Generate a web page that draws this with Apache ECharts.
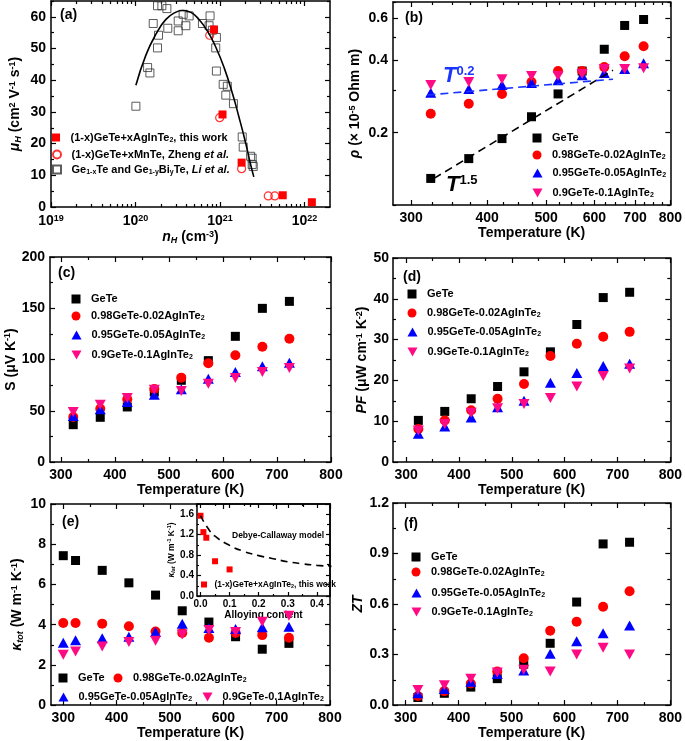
<!DOCTYPE html>
<html>
<head>
<meta charset="utf-8">
<script src="https://cdn.jsdelivr.net/npm/echarts@6.0.0/dist/echarts.min.js"></script>
<style>
html,body{margin:0;padding:0;background:#ffffff;}
#chart{width:685px;height:741px;}
</style>
</head>
<body>
<div id="chart"></div>
<script>
// ================= DATA =================
const temps = [323, 373, 423, 473, 523, 573, 623, 673, 723];
const tempsKappa = [300, 323, 373, 423, 473, 523, 573, 623, 673, 723];
const sampleNames = ['GeTe', '0.98GeTe-0.02AgInTe2', '0.95GeTe-0.05AgInTe2', '0.9GeTe-0.1AgInTe2'];
const nameThis = '(1-x)GeTe+xAgInTe2, this work';
const nameZheng = '(1-x)GeTe+xMnTe, Zheng et al.';
const nameLi = 'Ge1-xTe and Ge1-yBiyTe, Li et al.';

// (a) Hall mobility vs Hall carrier concentration
const nH_li = [1.01e20,1.39e20,1.48e20,1.62e20,1.82e20,1.87e20,1.82e20,2.05e20,2.35e20,2.41e20,3.20e20,3.20e20,3.66e20,3.94e20,4.31e20,6.19e20,7.42e20,7.62e20,8.12e20,9.06e20,8.89e20,9.06e20,1.09e21,1.17e21,1.22e21,1.44e21,1.83e21,1.88e21,2.30e21,2.40e21,2.40e21,2.47e21];
const mu_li = [31.8,44.0,42.3,57.9,50.2,54.2,63.5,63.5,62.6,56.4,55.6,58.7,60.8,57.2,60.3,57.9,57.2,60.3,55.8,53.5,50.2,42.9,38.7,35.3,38.1,32.6,22.1,18.9,16.0,15.4,13.4,12.8];
const nH_this = [8.49e20, 1.07e21, 1.80e21, 5.52e21, 1.22e22];
const mu_this = [56.0, 29.2, 14.0, 3.7, 1.5];
const nH_zheng = [7.55e20, 9.9e20, 1.80e21, 3.72e21, 4.45e21];
const mu_zheng = [54.2, 28.2, 12.1, 3.5, 3.5];
const nH_fit = [1.01e20,1.33e20,1.75e20,2.29e20,3.01e20,3.60e20,4.52e20,5.67e20,7.11e20,8.92e20,1.12e21,1.40e21,1.67e21,2.01e21,2.30e21,2.51e21];
const mu_fit = [38.4,48.0,54.6,59.2,61.5,62.0,61.4,59.1,55.5,50.4,43.9,35.9,28.5,20.2,13.4,9.5];

// (b) resistivity (x 10^-5 Ohm m)
const rho_GeTe = [0.129, 0.156, 0.189, 0.233, 0.290, 0.361, 0.445, 0.559, 0.592];
const rho_02 = [0.240, 0.264, 0.290, 0.325, 0.361, 0.361, 0.375, 0.416, 0.458];
const rho_05 = [0.293, 0.304, 0.316, 0.322, 0.331, 0.347, 0.354, 0.368, 0.389];
const rho_10 = [0.316, 0.325, 0.334, 0.344, 0.344, 0.351, 0.368, 0.368, 0.371];
const fit15_T = [327, 644];
const fit15_rho = [0.129, 0.364];
const fit02_T = [319, 644];
const fit02_rho = [0.287, 0.334];

// (c) Seebeck coefficient (uV/K)
const S_GeTe = [36.4, 43.6, 53.7, 68.3, 79.7, 98.9, 122.6, 149.9, 156.7];
const S_02 = [43.9, 52.0, 61.1, 71.2, 82.3, 96.3, 104.1, 112.5, 120.3];
const S_05 = [44.9, 51.4, 58.5, 65.7, 70.9, 81.3, 87.8, 93.3, 96.9];
const S_10 = [48.8, 55.9, 62.4, 70.6, 69.3, 76.4, 82.0, 87.8, 91.7];

// (d) power factor (uW cm^-1 K^-2)
const PF_GeTe = [10.2, 12.4, 15.5, 18.5, 22.1, 27.0, 33.7, 40.3, 41.6];
const PF_02 = [8.1, 10.2, 12.7, 15.5, 19.1, 26.0, 29.0, 30.7, 31.9];
const PF_05 = [6.9, 8.7, 10.9, 13.4, 15.0, 19.4, 21.8, 23.5, 24.1];
const PF_10 = [7.7, 9.3, 12.1, 13.2, 14.2, 15.7, 18.5, 21.1, 22.9];

// (e) total thermal conductivity (W m^-1 K^-1)
const k_GeTe = [7.43, 7.19, 6.70, 6.08, 5.47, 4.69, 4.13, 3.40, 2.78, 3.07];
const k_02 = [4.08, 4.08, 4.05, 3.92, 3.66, 3.59, 3.35, 3.59, 3.48, 3.35];
const k_05 = [3.10, 3.22, 3.33, 3.40, 3.63, 4.05, 3.84, 3.79, 3.87, 3.89];
const k_10 = [2.50, 2.66, 2.91, 3.14, 3.20, 3.51, 3.73, 3.63, 4.15, 4.44];

// (e) inset: lattice thermal conductivity vs alloying content
const alloyX = [0, 0.01, 0.02, 0.05, 0.1];
const kLat = [1.57, 1.25, 1.14, 0.68, 0.52];
const dcX = [0, 0.025, 0.05, 0.1, 0.15, 0.2, 0.25, 0.3, 0.35, 0.4, 0.45];
const dcK = [1.57, 1.33, 1.17, 0.99, 0.87, 0.79, 0.73, 0.67, 0.63, 0.60, 0.58];

// (f) ZT
const ZT_GeTe = [0.045, 0.070, 0.107, 0.157, 0.243, 0.367, 0.612, 0.957, 0.967];
const ZT_02 = [0.054, 0.083, 0.128, 0.200, 0.278, 0.441, 0.495, 0.584, 0.676];
const ZT_05 = [0.070, 0.095, 0.138, 0.184, 0.206, 0.305, 0.379, 0.427, 0.472];
const ZT_10 = [0.089, 0.118, 0.157, 0.194, 0.210, 0.200, 0.301, 0.340, 0.301];

// tick labels
const tempTicks = [300, 400, 500, 600, 700, 800];
const tempMinor = [350, 450, 550, 650, 750];
const tempMinorLog = [325, 350, 375, 425, 450, 475, 525, 550, 575, 625, 650, 675, 725, 750, 775];
const nHTicks = [1e19, 1e20, 1e21, 1e22];
const nHMinor = [2e19,3e19,4e19,5e19,6e19,7e19,8e19,9e19,2e20,3e20,4e20,5e20,6e20,7e20,8e20,9e20,2e21,3e21,4e21,5e21,6e21,7e21,8e21,9e21];
const muTicks = [0, 10, 20, 30, 40, 50, 60];
const muMinor = [5, 15, 25, 35, 45, 55, 65];
const rhoTicks = [0.2, 0.4, 0.6];
const rhoMinor = [0.1, 0.3, 0.5, 0.7];
const STicks = [0, 50, 100, 150, 200];
const SMinor = [25, 75, 125, 175];
const PFTicks = [0, 10, 20, 30, 40, 50];
const PFMinor = [5, 15, 25, 35, 45];
const kTicks = [0, 2, 4, 6, 8, 10];
const kMinor = [1, 3, 5, 7, 9];
const ZTTicks = [0, 0.3, 0.6, 0.9, 1.2];
const ZTMinor = [0.15, 0.45, 0.75, 1.05];
const alloyTicks = [0, 0.1, 0.2, 0.3, 0.4];
const alloyMinor = [0.05, 0.15, 0.25, 0.35];
const kLatTicks = [0, 0.4, 0.8, 1.2, 1.6];
const kLatMinor = [0.2, 0.6, 1.0, 1.4, 1.8];

// ================= BUILD =================
const FONT = 'Arial, "Liberation Sans", Helvetica, sans-serif';
const C_BLACK = '#000000', C_RED = '#ff0000', C_BLUE = '#0000ff', C_PINK = '#ff0a85';
const TRI_DOWN = 'path://M0,0L10,0L5,9Z';
const TRI_UP = 'path://M5,0L10,9L0,9Z';
const SQUARE = 'path://M0,0L10,0L10,10L0,10Z';

function richFor(fs) {
  const s = Math.round(fs * 0.64 * 10) / 10;
  const pad = Math.round(fs * 0.45);
  const b = {fontWeight: 'bold', fontFamily: FONT, color: '#000'};
  return {
    sup: Object.assign({fontSize: s, verticalAlign: 'top', padding: [0, 0, pad, 0]}, b),
    sub: Object.assign({fontSize: s, verticalAlign: 'bottom', padding: [pad, 0, 0, 0]}, b),
    it: Object.assign({fontSize: fs, fontStyle: 'italic'}, b),
    itsub: Object.assign({fontSize: s, fontStyle: 'italic', verticalAlign: 'bottom', padding: [pad, 0, 0, 0]}, b)
  };
}

const grid = [], xAxis = [], yAxis = [], series = [], legend = [], graphic = [];

function addGrid(l, t, w, h) { grid.push({left: l, top: t, width: w, height: h, containLabel: false}); return grid.length - 1; }

function makeAxis(dim, gi, c) {
  const list = dim === 'x' ? xAxis : yAxis;
  const mainPos = dim === 'x' ? 'bottom' : 'left';
  const oppPos = dim === 'x' ? 'top' : 'right';
  const common = () => {
    const o = {gridIndex: gi, type: c.type || 'value', min: c.min, max: c.max, splitLine: {show: false}, silent: true};
    if (c.type === 'log') o.logBase = 10;
    return o;
  };
  const line = {show: true, onZero: false, lineStyle: {color: '#000', width: 1.5}};
  const noline = {show: false, onZero: false};
  const tick = (vals, len) => ({show: true, inside: true, length: len, customValues: vals, lineStyle: {color: '#000', width: 1.2}});
  const idx = list.length;
  list.push(Object.assign(common(), {
    position: mainPos, axisLine: line, axisTick: tick(c.majors, c.majLen || 5),
    axisLabel: {show: true, customValues: c.labels, formatter: c.fmt, margin: c.margin, color: '#000',
      fontSize: c.fs, fontWeight: 'bold', fontFamily: FONT, rich: richFor(c.fs)},
    name: c.name, nameLocation: 'middle', nameGap: c.nameGap,
    nameTextStyle: {color: '#000', fontSize: c.nfs, fontWeight: 'bold', fontFamily: FONT, rich: richFor(c.nfs)}
  }));
  list.push(Object.assign(common(), {position: mainPos, axisLine: noline, axisTick: tick(c.minors, c.minLen || 3), axisLabel: {show: false}}));
  list.push(Object.assign(common(), {position: oppPos, axisLine: line, axisTick: tick(c.majors, c.majLen || 5), axisLabel: {show: false}}));
  list.push(Object.assign(common(), {position: oppPos, axisLine: noline, axisTick: tick(c.minors, c.minLen || 3), axisLabel: {show: false}}));
  return idx;
}

function pairs(xs, ys) { return xs.map((x, i) => [x, ys[i]]); }

function scat(name, xi, yi, xs, ys, symbol, color, size, extra) {
  series.push(Object.assign({
    type: 'scatter', name: name, xAxisIndex: xi, yAxisIndex: yi, data: pairs(xs, ys),
    symbol: symbol, symbolSize: size, itemStyle: {color: color, opacity: 1}, silent: true
  }, extra || {}));
}

function lineS(name, xi, yi, xs, ys, color, type, smooth) {
  series.push({type: 'line', name: name, xAxisIndex: xi, yAxisIndex: yi, data: pairs(xs, ys),
    showSymbol: false, symbol: 'none', smooth: !!smooth, silent: true,
    lineStyle: {color: color, width: 1.6, type: type}});
}

const LEG_TEXT = {};
LEG_TEXT['GeTe'] = 'GeTe';
LEG_TEXT['0.98GeTe-0.02AgInTe2'] = '0.98GeTe-0.02AgInTe{sub|2}';
LEG_TEXT['0.95GeTe-0.05AgInTe2'] = '0.95GeTe-0.05AgInTe{sub|2}';
LEG_TEXT['0.9GeTe-0.1AgInTe2'] = '0.9GeTe-0.1AgInTe{sub|2}';
LEG_TEXT[nameThis] = '(1-x)GeTe+xAgInTe{sub|2}, this work';
LEG_TEXT[nameZheng] = '(1-x)GeTe+xMnTe, Zheng {it|et al.}';
LEG_TEXT[nameLi] = 'Ge{sub|1-x}Te and Ge{sub|1-y}Bi{sub|y}Te, {it|Li et al.}';

function leg(name, cx, cy, fs, isz, extra) {
  fs = fs || 11; isz = isz || 9;
  const w = isz + (extra === undefined ? 11 : extra);
  legend.push({data: [name], left: cx - isz / 2, top: cy - isz / 2, itemWidth: w, itemHeight: isz,
    padding: 0, itemGap: 0, selectedMode: false, symbolKeepAspect: true,
    textStyle: {color: '#000', fontSize: fs, fontWeight: 'bold', fontFamily: FONT, rich: richFor(fs)},
    formatter: (n) => LEG_TEXT[n] || n});
}

function txt(x, y, text, fs, color, rich, style) {
  graphic.push({type: 'text', x: x, y: y, silent: true, z: 50,
    style: Object.assign({text: text, fill: color || '#000', fontSize: fs, fontWeight: 'bold', fontFamily: FONT,
      align: 'left', verticalAlign: 'middle', rich: rich}, style || {})});
}

const tempName = 'Temperature (K)';
const fmt1 = v => Number(v).toFixed(1);

// ---------- panel (a) ----------
const gA = addGrid(51, 1, 279, 206);
const xA = makeAxis('x', gA, {type: 'log', min: 1e19, max: 2e22, labels: nHTicks, majors: nHTicks, minors: nHMinor,
  fmt: v => '10{sup|' + Math.round(Math.log10(v)) + '}', fs: 14, margin: 7,
  name: '{it|n}{itsub|H} (cm{sup|-3})', nfs: 14, nameGap: 23});
const yA = makeAxis('y', gA, {min: 0, max: 65, labels: muTicks, majors: muTicks, minors: muMinor, fs: 14, margin: 5,
  name: '{it|μ}{itsub|H} (cm{sup|2} V{sup|-1} s{sup|-1})', nfs: 14, nameGap: 28});
scat(nameLi, xA, yA, nH_li, mu_li, SQUARE, 'rgba(0,0,0,0)', 8, {itemStyle: {color: 'rgba(255,255,255,0)', borderColor: '#333', borderWidth: 1}});
lineS('fitA', xA, yA, nH_fit, mu_fit, '#000', 'solid', true);
scat(nameZheng, xA, yA, nH_zheng, mu_zheng, 'circle', 'rgba(0,0,0,0)', 8, {itemStyle: {color: 'rgba(255,255,255,0)', borderColor: C_RED, borderWidth: 1.2}});
scat(nameThis, xA, yA, nH_this, mu_this, SQUARE, C_RED, 8);
leg(nameThis, 56, 136, 11, 8);
leg(nameZheng, 56, 153, 11, 8);
leg(nameLi, 56, 168, 11, 8);
txt(60, 15, '(a)', 14);

// ---------- panel (b) ----------
const gB = addGrid(393, 2, 279, 203);
const xB = makeAxis('x', gB, {type: 'log', min: 280, max: 800, labels: tempTicks, majors: tempTicks, minors: tempMinorLog,
  fs: 14, margin: 6, name: tempName, nfs: 14, nameGap: 20});
const yB = makeAxis('y', gB, {type: 'log', min: 0.1, max: 0.7, labels: rhoTicks, majors: rhoTicks, minors: rhoMinor,
  fmt: fmt1, fs: 14, margin: 5, name: '{it|ρ} (× 10{sup|-5} Ohm m)', nfs: 14, nameGap: 30});
lineS('fit15', xB, yB, fit15_T, fit15_rho, '#000', [8, 5], false);
lineS('fit02', xB, yB, fit02_T, fit02_rho, '#1a35ff', [8, 5], false);
scat(sampleNames[0], xB, yB, temps, rho_GeTe, SQUARE, C_BLACK, 9);
scat(sampleNames[1], xB, yB, temps, rho_02, 'circle', C_RED, 10);
scat(sampleNames[2], xB, yB, temps, rho_05, TRI_UP, C_BLUE, [11, 10]);
scat(sampleNames[3], xB, yB, temps, rho_10, TRI_DOWN, C_PINK, [11, 10]);
leg(sampleNames[0], 537, 137);
leg(sampleNames[1], 537, 154);
leg(sampleNames[2], 537, 172);
leg(sampleNames[3], 537, 192);
txt(405, 18, '(b)', 14);
txt(443, 76, '{T|T}{s|0.2}', 20, '#1a35ff', {
  T: {fontSize: 22, fontStyle: 'italic', fontWeight: 'bold', fontFamily: FONT, fill: '#1a35ff'},
  s: {fontSize: 13, fontWeight: 'bold', fontFamily: FONT, fill: '#1a35ff', verticalAlign: 'top', padding: [0, 0, 10, 0]}});
txt(446, 185, '{T|T}{s|1.5}', 20, '#000', {
  T: {fontSize: 22, fontStyle: 'italic', fontWeight: 'bold', fontFamily: FONT, fill: '#000'},
  s: {fontSize: 13, fontWeight: 'bold', fontFamily: FONT, fill: '#000', verticalAlign: 'top', padding: [0, 0, 10, 0]}});

// ---------- panel (c) ----------
const gC = addGrid(50, 257, 281, 205);
const xC = makeAxis('x', gC, {min: 280, max: 800, labels: tempTicks, majors: tempTicks, minors: tempMinor,
  fs: 14, margin: 6, name: tempName, nfs: 14, nameGap: 21});
const yC = makeAxis('y', gC, {min: 0, max: 200, labels: STicks, majors: STicks, minors: SMinor,
  fs: 14, margin: 5, name: 'S (μV K{sup|-1})', nfs: 14, nameGap: 31});
scat(sampleNames[0], xC, yC, temps, S_GeTe, SQUARE, C_BLACK, 9);
scat(sampleNames[1], xC, yC, temps, S_02, 'circle', C_RED, 10);
scat(sampleNames[2], xC, yC, temps, S_05, TRI_UP, C_BLUE, [11, 10]);
scat(sampleNames[3], xC, yC, temps, S_10, TRI_DOWN, C_PINK, [11, 10]);
leg(sampleNames[0], 76, 298);
leg(sampleNames[1], 76, 315);
leg(sampleNames[2], 76, 334);
leg(sampleNames[3], 76, 354);
txt(58, 273, '(c)', 14);

// ---------- panel (d) ----------
const gD = addGrid(393, 258, 280, 204);
const xD = makeAxis('x', gD, {min: 275, max: 800, labels: tempTicks, majors: tempTicks, minors: tempMinor,
  fs: 14, margin: 6, name: tempName, nfs: 14, nameGap: 19});
const yD = makeAxis('y', gD, {min: 0, max: 50, labels: PFTicks, majors: PFTicks, minors: PFMinor,
  fs: 14, margin: 4, name: '{it|PF} (μW cm{sup|-1} K{sup|-2})', nfs: 14, nameGap: 22});
scat(sampleNames[0], xD, yD, temps, PF_GeTe, SQUARE, C_BLACK, 9);
scat(sampleNames[1], xD, yD, temps, PF_02, 'circle', C_RED, 10);
scat(sampleNames[2], xD, yD, temps, PF_05, TRI_UP, C_BLUE, [11, 10]);
scat(sampleNames[3], xD, yD, temps, PF_10, TRI_DOWN, C_PINK, [11, 10]);
leg(sampleNames[0], 412, 293);
leg(sampleNames[1], 412, 312);
leg(sampleNames[2], 412, 331);
leg(sampleNames[3], 412, 351);
txt(403, 277, '(d)', 14);

// ---------- panel (e) ----------
const gE = addGrid(51, 504, 279, 204);
const xE = makeAxis('x', gE, {min: 277, max: 800, labels: tempTicks, majors: tempTicks, minors: tempMinor,
  fs: 14, margin: 6, name: tempName, nfs: 14, nameGap: 18});
const yE = makeAxis('y', gE, {min: 0, max: 10, labels: kTicks, majors: kTicks, minors: kMinor,
  fs: 14, margin: 5, name: '{it|κ}{itsub|tot} (W m{sup|-1} K{sup|-1})', nfs: 14, nameGap: 26});
scat(sampleNames[0], xE, yE, tempsKappa, k_GeTe, SQUARE, C_BLACK, 9);
scat(sampleNames[1], xE, yE, tempsKappa, k_02, 'circle', C_RED, 10);
scat(sampleNames[2], xE, yE, tempsKappa, k_05, TRI_UP, C_BLUE, [11, 10]);
scat(sampleNames[3], xE, yE, tempsKappa, k_10, TRI_DOWN, C_PINK, [11, 10]);
leg(sampleNames[0], 63, 677);
leg(sampleNames[1], 118, 677);
leg(sampleNames[2], 63, 696);
leg(sampleNames[3], 207, 696);
txt(62, 522, '(e)', 14);

// inset
const gI = addGrid(197, 504, 133, 92);
const xI = makeAxis('x', gI, {min: -0.012, max: 0.445, labels: alloyTicks, majors: alloyTicks, minors: alloyMinor,
  fmt: fmt1, fs: 10, margin: 3, majLen: 4, minLen: 2, name: 'Alloying content', nfs: 10, nameGap: 11});
const yI = makeAxis('y', gI, {min: 0, max: 1.8, labels: kLatTicks, majors: kLatTicks, minors: kLatMinor,
  fmt: fmt1, fs: 10, margin: 3, majLen: 4, minLen: 2, name: '{it|κ}{itsub|lat} (W m{sup|-1} K{sup|-1})', nfs: 8.5, nameGap: 19});
lineS('Debye-Callaway', xI, yI, dcX, dcK, '#000', [7, 5], true);
scat(nameThis, xI, yI, alloyX, kLat, SQUARE, C_RED, 6);
leg(nameThis, 204, 583, 8.5, 6, 5);
txt(232, 536, 'Debye-Callaway model', 8.5);

// ---------- panel (f) ----------
const gF = addGrid(393, 503, 280, 206);
const xF = makeAxis('x', gF, {min: 276, max: 800, labels: tempTicks, majors: tempTicks, minors: tempMinor,
  fs: 14, margin: 6, name: tempName, nfs: 14, nameGap: 18});
const yF = makeAxis('y', gF, {min: 0, max: 1.2, labels: ZTTicks, majors: ZTTicks, minors: ZTMinor,
  fmt: fmt1, fs: 14, margin: 4, name: '{it|ZT}', nfs: 14, nameGap: 26});
scat(sampleNames[0], xF, yF, temps, ZT_GeTe, SQUARE, C_BLACK, 9);
scat(sampleNames[1], xF, yF, temps, ZT_02, 'circle', C_RED, 10);
scat(sampleNames[2], xF, yF, temps, ZT_05, TRI_UP, C_BLUE, [11, 10]);
scat(sampleNames[3], xF, yF, temps, ZT_10, TRI_DOWN, C_PINK, [11, 10]);
leg(sampleNames[0], 416, 556);
leg(sampleNames[1], 416, 571);
leg(sampleNames[2], 416, 592);
leg(sampleNames[3], 416, 611);
txt(404, 524, '(f)', 14);

const chart = echarts.init(document.getElementById('chart'), null, {renderer: 'canvas'});
chart.setOption({
  animation: false,
  backgroundColor: '#ffffff',
  textStyle: {fontFamily: FONT},
  grid: grid, xAxis: xAxis, yAxis: yAxis, series: series, legend: legend, graphic: graphic
});
</script>
</body>
</html>
